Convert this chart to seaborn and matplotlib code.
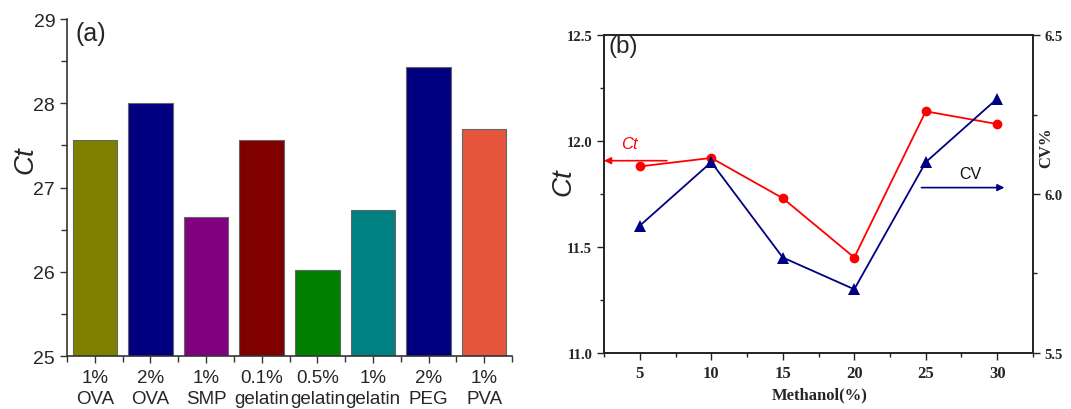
import numpy as np
import pandas as pd
import matplotlib
matplotlib.use("Agg")
import matplotlib.pyplot as plt
import seaborn as sns

# panel (a) data
labels = ["1%\nOVA", "2%\nOVA", "1%\nSMP", "0.1%\ngelatin", "0.5%\ngelatin",
          "1%\ngelatin", "2%\nPEG", "1%\nPVA"]
ct_a = [27.56, 28.00, 26.65, 27.57, 26.02, 26.74, 28.43, 27.70]
bar_colors = ["#808000", "#000080", "#800080", "#800000", "#008000",
              "#008080", "#000080", "#E5553B"]

# panel (b) data
methanol = [5, 10, 15, 20, 25, 30]
ct_b = [11.88, 11.92, 11.73, 11.45, 12.14, 12.08]
cv_b = [5.90, 6.10, 5.80, 5.70, 6.10, 6.30]

sns.set_style("ticks")
plt.rcParams['font.family'] = ['Liberation Sans', 'DejaVu Sans']

fig = plt.figure(figsize=(10.71, 4.10), dpi=100)
ax1 = fig.add_axes([0.0626, 0.129, 0.4155, 0.822])
ax2 = fig.add_axes([0.564, 0.137, 0.4005, 0.775])

# ---- (a) bar chart
df_a = pd.DataFrame({"label": labels, "Ct": ct_a})
sns.barplot(data=df_a, x="label", y="Ct", hue="label", palette=bar_colors,
            legend=False, width=0.8, edgecolor="#666666", linewidth=0.8,
            saturation=1, ax=ax1)
ax1.set_ylim(25, 29)
ax1.set_xlim(-0.5, 7.5)
ax1.set_yticks([25, 26, 27, 28, 29])
ax1.set_yticks(np.arange(25.5, 29, 1.0), minor=True)
ax1.set_xticks(np.arange(-0.5, 8, 1.0), minor=True)
ax1.tick_params(axis="y", which="major", labelsize=14)
ax1.tick_params(axis="x", which="major", labelsize=13.5, pad=4)
ax1.tick_params(axis="both", which="major", length=5, width=1,
                direction="out", color="#333333")
ax1.tick_params(axis="both", which="minor", length=4, width=1,
                direction="out", color="#333333")
for t in ax1.get_xticklabels():
    t.set_linespacing(1.3)
ax1.set_xlabel("")
ax1.set_ylabel("Ct", fontsize=20, fontstyle="italic")
ax1.yaxis.set_label_coords(-0.065, 0.585)
for s in ["top", "right"]:
    ax1.spines[s].set_visible(False)
for s in ["left", "bottom"]:
    ax1.spines[s].set_color("#333333")
    ax1.spines[s].set_linewidth(1.2)
ax1.text(0.018, 0.993, "(a)", transform=ax1.transAxes, fontsize=18,
         va="top", ha="left")

# ---- (b) line chart with twin axis
df_b = pd.DataFrame({"methanol": methanol, "Ct": ct_b, "CV": cv_b})
sns.lineplot(data=df_b, x="methanol", y="Ct", color="#FF0000", marker="o",
             markersize=7, markeredgewidth=0, linewidth=1.3, ax=ax2)
ax3 = ax2.twinx()
sns.lineplot(data=df_b, x="methanol", y="CV", color="#000080", marker="^",
             markersize=8, markeredgewidth=0, linewidth=1.3, ax=ax3)

ax2.set_xlim(2.5, 32.5)
ax2.set_ylim(11.0, 12.5)
ax3.set_ylim(5.5, 6.5)
ax2.set_xticks(methanol)
ax2.set_xticks(np.arange(2.5, 33, 2.5), minor=True)
ax2.set_yticks([11.0, 11.5, 12.0, 12.5])
ax2.set_yticks([11.25, 11.75, 12.25], minor=True)
ax3.set_yticks([5.5, 6.0, 6.5])
ax3.set_yticks([5.75, 6.25], minor=True)
ax2.yaxis.set_major_formatter(matplotlib.ticker.FormatStrFormatter("%.1f"))
ax3.yaxis.set_major_formatter(matplotlib.ticker.FormatStrFormatter("%.1f"))

for a in (ax2, ax3):
    a.tick_params(axis="both", which="major", length=5,
                  width=1, direction="out", color="#222222")
    a.tick_params(axis="x", labelsize=12)
    a.tick_params(axis="y", labelsize=10.5)
    a.tick_params(axis="both", which="minor", length=3, width=1,
                  direction="out", color="#222222")
    for t in a.get_xticklabels() + a.get_yticklabels():
        t.set_family("Liberation Serif")
        t.set_fontweight("bold")
    for s in a.spines.values():
        s.set_visible(True)
        s.set_color("#222222")
        s.set_linewidth(1.2)

ax2.set_xlabel("Methanol(%)", fontsize=12, fontweight="bold",
               family="Liberation Serif")
ax2.xaxis.set_label_coords(0.503, -0.105)
ax2.set_ylabel("Ct", fontsize=20, fontstyle="italic")
ax2.yaxis.set_label_coords(-0.065, 0.54)
ax3.set_ylabel("CV%", fontsize=12, fontweight="bold",
               family="Liberation Serif")
ax3.yaxis.set_label_coords(1.012, 0.65)

ax2.text(0.01, 1.0, "(b)", transform=ax2.transAxes, fontsize=17.5,
         va="top", ha="left")

# arrows pointing to the matching axes
ax2.annotate("", xy=(2.5, 11.907), xytext=(6.9, 11.907),
             arrowprops=dict(arrowstyle="-|>", color="#FF0000", lw=1.2,
                             shrinkA=0, shrinkB=0, mutation_scale=10))
ax2.text(4.3, 11.99, "Ct", color="#FF0000", fontsize=12,
         fontstyle="italic", ha="center", va="center")
ax3.annotate("", xy=(30.5, 6.02), xytext=(24.7, 6.02),
             arrowprops=dict(arrowstyle="-|>", color="#000080", lw=1.2,
                             shrinkA=0, shrinkB=0, mutation_scale=10))
ax3.text(28.1, 6.065, "CV", color="#111111", fontsize=11.5,
         ha="center", va="center")

fig.savefig("out.png", dpi=100)
